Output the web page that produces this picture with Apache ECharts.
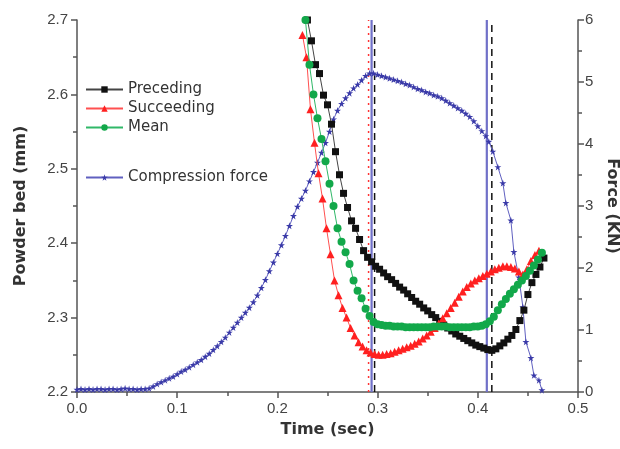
<!DOCTYPE html>
<html>
<head>
<meta charset="utf-8">
<script src="https://cdn.jsdelivr.net/npm/echarts@6/dist/echarts.min.js"></script>
<style>
  html, body { margin: 0; padding: 0; background: #fff; }
  #chart { width: 620px; height: 449px; }
</style>
</head>
<body>
<div id="chart"></div>
<script>
// 数据：时间 (sec) 与粉床厚度 (mm) / 压力 (KN)
var precedingTime = [0.230, 0.234, 0.238, 0.242, 0.246, 0.250, 0.254, 0.258, 0.262, 0.266, 0.270, 0.274, 0.278, 0.282, 0.286, 0.290, 0.294, 0.298, 0.302, 0.306, 0.310, 0.314, 0.318, 0.322, 0.326, 0.330, 0.334, 0.338, 0.342, 0.346, 0.350, 0.354, 0.358, 0.362, 0.366, 0.370, 0.374, 0.378, 0.382, 0.386, 0.390, 0.394, 0.398, 0.402, 0.406, 0.410, 0.414, 0.418, 0.422, 0.426, 0.430, 0.434, 0.438, 0.442, 0.446, 0.450, 0.454, 0.458, 0.462, 0.466];
var precedingValue = [2.700, 2.672, 2.640, 2.628, 2.599, 2.586, 2.560, 2.523, 2.492, 2.467, 2.448, 2.430, 2.420, 2.405, 2.390, 2.381, 2.375, 2.369, 2.365, 2.360, 2.355, 2.351, 2.346, 2.341, 2.337, 2.332, 2.327, 2.322, 2.318, 2.313, 2.309, 2.304, 2.300, 2.295, 2.290, 2.286, 2.282, 2.278, 2.275, 2.272, 2.269, 2.266, 2.263, 2.261, 2.259, 2.257, 2.256, 2.258, 2.262, 2.266, 2.271, 2.276, 2.284, 2.296, 2.310, 2.331, 2.347, 2.358, 2.368, 2.380];

var succeedingTime = [0.225, 0.229, 0.233, 0.237, 0.241, 0.245, 0.249, 0.253, 0.257, 0.261, 0.265, 0.269, 0.273, 0.277, 0.281, 0.285, 0.289, 0.293, 0.297, 0.301, 0.305, 0.309, 0.313, 0.317, 0.321, 0.325, 0.329, 0.333, 0.337, 0.341, 0.345, 0.349, 0.353, 0.357, 0.361, 0.365, 0.369, 0.373, 0.377, 0.381, 0.385, 0.389, 0.393, 0.397, 0.401, 0.405, 0.409, 0.413, 0.417, 0.421, 0.425, 0.429, 0.433, 0.437, 0.441, 0.445, 0.449, 0.453, 0.457, 0.461];
var succeedingValue = [2.680, 2.650, 2.580, 2.535, 2.494, 2.460, 2.420, 2.385, 2.350, 2.330, 2.313, 2.300, 2.286, 2.276, 2.267, 2.261, 2.256, 2.253, 2.251, 2.250, 2.250, 2.251, 2.252, 2.254, 2.256, 2.258, 2.260, 2.262, 2.265, 2.268, 2.272, 2.276, 2.281, 2.286, 2.292, 2.299, 2.306, 2.313, 2.320, 2.328, 2.335, 2.341, 2.346, 2.350, 2.353, 2.356, 2.359, 2.362, 2.365, 2.367, 2.369, 2.369, 2.368, 2.366, 2.362, 2.358, 2.365, 2.376, 2.384, 2.390];

var meanTime = [0.228, 0.232, 0.236, 0.240, 0.244, 0.248, 0.252, 0.256, 0.260, 0.264, 0.268, 0.272, 0.276, 0.280, 0.284, 0.288, 0.292, 0.296, 0.300, 0.304, 0.308, 0.312, 0.316, 0.320, 0.324, 0.328, 0.332, 0.336, 0.340, 0.344, 0.348, 0.352, 0.356, 0.360, 0.364, 0.368, 0.372, 0.376, 0.380, 0.384, 0.388, 0.392, 0.396, 0.400, 0.404, 0.408, 0.412, 0.416, 0.420, 0.424, 0.428, 0.432, 0.436, 0.440, 0.444, 0.448, 0.452, 0.456, 0.460, 0.464];
var meanValue = [2.700, 2.640, 2.600, 2.568, 2.540, 2.510, 2.480, 2.450, 2.420, 2.402, 2.388, 2.372, 2.350, 2.336, 2.326, 2.312, 2.302, 2.294, 2.291, 2.290, 2.289, 2.289, 2.288, 2.288, 2.288, 2.287, 2.287, 2.287, 2.287, 2.287, 2.287, 2.287, 2.288, 2.288, 2.288, 2.288, 2.287, 2.287, 2.287, 2.287, 2.287, 2.287, 2.288, 2.288, 2.289, 2.291, 2.295, 2.301, 2.310, 2.318, 2.325, 2.332, 2.338, 2.344, 2.350, 2.356, 2.363, 2.370, 2.378, 2.387];

var forceTime = [0.000, 0.004, 0.008, 0.012, 0.016, 0.020, 0.024, 0.028, 0.032, 0.036, 0.040, 0.044, 0.048, 0.052, 0.056, 0.060, 0.064, 0.068, 0.072, 0.076, 0.080, 0.084, 0.088, 0.092, 0.096, 0.100, 0.104, 0.108, 0.112, 0.116, 0.120, 0.124, 0.128, 0.132, 0.136, 0.140, 0.144, 0.148, 0.152, 0.156, 0.160, 0.164, 0.168, 0.172, 0.176, 0.180, 0.184, 0.188, 0.192, 0.196, 0.200, 0.204, 0.208, 0.212, 0.216, 0.220, 0.224, 0.228, 0.232, 0.236, 0.240, 0.244, 0.248, 0.252, 0.256, 0.260, 0.264, 0.268, 0.272, 0.276, 0.280, 0.284, 0.288, 0.292, 0.296, 0.300, 0.304, 0.308, 0.312, 0.316, 0.320, 0.324, 0.328, 0.332, 0.336, 0.340, 0.344, 0.348, 0.352, 0.356, 0.360, 0.364, 0.368, 0.372, 0.376, 0.380, 0.384, 0.388, 0.392, 0.396, 0.400, 0.404, 0.408, 0.411, 0.415, 0.420, 0.425, 0.428, 0.433, 0.436, 0.441, 0.445, 0.448, 0.453, 0.456, 0.461, 0.464];
var forceValue = [0.04, 0.05, 0.04, 0.05, 0.04, 0.05, 0.05, 0.04, 0.05, 0.05, 0.04, 0.05, 0.06, 0.05, 0.05, 0.04, 0.05, 0.05, 0.06, 0.09, 0.13, 0.16, 0.19, 0.22, 0.25, 0.29, 0.33, 0.36, 0.40, 0.44, 0.48, 0.52, 0.57, 0.62, 0.68, 0.74, 0.81, 0.88, 0.96, 1.04, 1.12, 1.20, 1.28, 1.36, 1.45, 1.56, 1.68, 1.81, 1.95, 2.09, 2.23, 2.37, 2.52, 2.68, 2.84, 2.99, 3.12, 3.25, 3.40, 3.55, 3.70, 3.86, 4.02, 4.20, 4.40, 4.54, 4.65, 4.74, 4.82, 4.90, 4.96, 5.03, 5.10, 5.14, 5.14, 5.12, 5.10, 5.08, 5.06, 5.04, 5.02, 5.00, 4.97, 4.95, 4.92, 4.89, 4.87, 4.84, 4.82, 4.79, 4.77, 4.74, 4.70, 4.66, 4.62, 4.58, 4.54, 4.49, 4.44, 4.37, 4.29, 4.21, 4.13, 4.04, 3.88, 3.63, 3.37, 3.05, 2.77, 2.26, 1.85, 1.37, 0.81, 0.55, 0.27, 0.19, 0.03];

var timeRange = [0, 0.5];
var bedRange = [2.2, 2.7];
var forceRange = [0, 6];
// 竖直参考线：红点线 / 蓝实线 / 黑虚线
var redLineTimes = [0.291];
var blueLineTimes = [0.294, 0.409];
var blackLineTimes = [0.297, 0.414];

function pairs(xs, ys) {
	return xs.map(function (x, i) { return [x, ys[i]]; });
}

function vLines(times, style) {
	return times.map(function (t) {
		return {
			type: 'line',
			yAxisIndex: 0,
			silent: true,
			symbol: 'none',
			data: [[t, bedRange[0]], [t, bedRange[1]]],
			lineStyle: style,
			z: 1
		};
	});
}

var starPath = 'path://M50,0 L61,35 L98,35 L68,57 L79,91 L50,70 L21,91 L32,57 L2,35 L39,35 Z';
var fontMain = 'DejaVu Sans';

var chart = echarts.init(document.getElementById('chart'), null, { renderer: 'canvas' });

var axisLine = { show: true, lineStyle: { color: '#555', width: 1.5 } };
var tickStyle = { show: true, inside: false, length: 6, lineStyle: { color: '#555', width: 1.5 } };
var minorStyle = { show: true, splitNumber: 2, length: 4, lineStyle: { color: '#555', width: 1.5 } };
var axisLabelStyle = { color: '#444', fontSize: 15, fontFamily: 'Liberation Sans' };
var nameStyle = { fontSize: 16, fontWeight: 'bold', fontFamily: fontMain, color: '#333' };

var series = [{
	name: 'Preceding',
	type: 'line',
	yAxisIndex: 0,
	data: pairs(precedingTime, precedingValue),
	symbol: 'rect',
	symbolSize: 7,
	itemStyle: { color: '#111' },
	lineStyle: { color: '#444', width: 1 },
	z: 3
}, {
	name: 'Succeeding',
	type: 'line',
	yAxisIndex: 0,
	data: pairs(succeedingTime, succeedingValue),
	symbol: 'triangle',
	symbolSize: 8,
	itemStyle: { color: '#ff2020' },
	lineStyle: { color: '#ff5050', width: 1 },
	z: 4
}, {
	name: 'Mean',
	type: 'line',
	yAxisIndex: 0,
	data: pairs(meanTime, meanValue),
	symbol: 'circle',
	symbolSize: 8,
	itemStyle: { color: '#12a84a' },
	lineStyle: { color: '#30b868', width: 1 },
	z: 5
}, {
	name: 'Compression force',
	type: 'line',
	yAxisIndex: 1,
	data: pairs(forceTime, forceValue),
	symbol: starPath,
	symbolSize: 7,
	itemStyle: { color: '#3a3aa8' },
	lineStyle: { color: '#6060c0', width: 1 },
	z: 2
}];

series = series
	.concat(vLines(redLineTimes, { color: '#ff3333', width: 1.5, type: [2, 5] }))
	.concat(vLines(blueLineTimes, { color: '#7070c8', width: 2.2, type: 'solid' }))
	.concat(vLines(blackLineTimes, { color: '#111', width: 1.5, type: [7, 5] }));

var option = {
	animation: false,
	backgroundColor: '#fff',
	grid: { left: 77, right: 42, top: 20, bottom: 57, outerBoundsMode: 'none', containLabel: false },
	legend: [{
		data: ['Preceding', 'Succeeding', 'Mean'],
		orient: 'vertical',
		left: 80,
		top: 77,
		itemWidth: 37,
		itemHeight: 8,
		itemGap: 4,
		textStyle: { fontSize: 15, fontFamily: fontMain, color: '#333' }
	}, {
		data: ['Compression force'],
		orient: 'vertical',
		left: 80,
		top: 165,
		itemWidth: 37,
		itemHeight: 8,
		textStyle: { fontSize: 15, fontFamily: fontMain, color: '#333' }
	}],
	xAxis: {
		type: 'value',
		min: timeRange[0],
		max: timeRange[1],
		interval: 0.1,
		name: 'Time (sec)',
		nameLocation: 'middle',
		nameGap: 30,
		nameTextStyle: nameStyle,
		axisLine: axisLine,
		axisTick: tickStyle,
		minorTick: minorStyle,
		splitLine: { show: false },
		axisLabel: Object.assign({ margin: 9, formatter: function (v) { return v.toFixed(1); } }, axisLabelStyle)
	},
	yAxis: [{
		type: 'value',
		position: 'left',
		min: bedRange[0],
		max: bedRange[1],
		interval: 0.1,
		name: 'Powder bed (mm)',
		nameLocation: 'middle',
		nameGap: 48,
		nameRotate: 90,
		nameTextStyle: nameStyle,
		axisLine: axisLine,
		axisTick: tickStyle,
		minorTick: minorStyle,
		splitLine: { show: false },
		axisLabel: Object.assign({ margin: 9, formatter: function (v) { return v.toFixed(1); } }, axisLabelStyle)
	}, {
		type: 'value',
		position: 'right',
		min: forceRange[0],
		max: forceRange[1],
		interval: 1,
		name: 'Force (KN)',
		nameLocation: 'middle',
		nameGap: 17,
		nameRotate: -90,
		nameTextStyle: nameStyle,
		axisLine: axisLine,
		axisTick: tickStyle,
		minorTick: minorStyle,
		splitLine: { show: false },
		axisLabel: Object.assign({ margin: 7 }, axisLabelStyle)
	}],
	series: series
};

chart.setOption(option);
</script>
</body>
</html>
